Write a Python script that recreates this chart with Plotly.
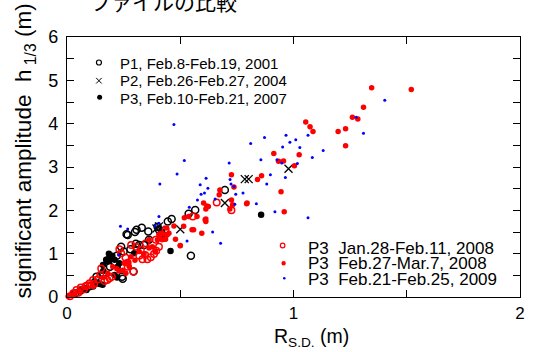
import plotly.graph_objects as go

# ---------------- data ----------------
p1_x = [0.035, 0.06, 0.10, 0.13, 0.16, 0.19, 0.21, 0.239, 0.243, 0.246, 0.263, 0.268, 0.294, 0.30, 0.304,
        0.307, 0.319, 0.33, 0.34, 0.359, 0.362, 0.40, 0.406, 0.445, 0.462, 0.537, 0.547, 0.566, 0.697,
        0.22, 0.25, 0.28, 0.18]
p1_y = [0.08, 0.15, 0.25, 0.47, 0.55, 0.70, 0.78, 1.16, 0.47, 0.42, 1.45, 1.43, 0.59, 1.50, 1.23,
        1.55, 1.20, 1.60, 1.20, 1.51, 1.32, 1.62, 1.55, 1.74, 1.80, 1.92, 0.95, 2.01, 2.47,
        0.95, 1.05, 1.10, 0.85]

p2_x = [0.395, 0.406, 0.413, 0.50, 0.697, 0.785, 0.802, 0.978]
p2_y = [1.58, 1.63, 1.55, 1.565, 2.17, 2.72, 2.72, 2.96]

p3_07_x = [0.03, 0.057, 0.079, 0.086, 0.115, 0.12, 0.137, 0.145, 0.157, 0.159, 0.16, 0.173, 0.18, 0.185,
           0.19, 0.20, 0.21, 0.21, 0.221, 0.224, 0.231, 0.297, 0.42, 0.428, 0.457, 0.857]
p3_07_y = [0.05, 0.16, 0.20, 0.16, 0.24, 0.35, 0.32, 0.30, 0.28, 0.74, 0.60, 0.86, 0.82, 1.00,
           0.90, 0.95, 0.86, 0.51, 0.45, 0.70, 0.78, 1.01, 1.51, 1.43, 1.06, 1.90]

p3_08a_x = [0.013, 0.028, 0.042, 0.061, 0.082, 0.10, 0.115, 0.137, 0.147, 0.151, 0.166, 0.178, 0.188, 0.198,
            0.231, 0.239, 0.258, 0.268, 0.268, 0.293, 0.283, 0.304, 0.319, 0.333, 0.345, 0.355, 0.37, 0.384,
            0.394, 0.406, 0.392, 0.413, 0.428, 0.435, 0.348, 0.326, 0.555, 0.661, 0.726, 0.05, 0.075, 0.09, 0.12]
p3_08a_y = [0.02, 0.085, 0.16, 0.22, 0.25, 0.32, 0.39, 0.41, 0.51, 0.66, 0.37, 0.39, 0.43, 0.47,
            1.10, 1.01, 0.91, 0.79, 0.70, 0.59, 1.20, 1.16, 0.95, 0.87, 0.97, 0.87, 0.92, 0.99,
            1.07, 1.16, 1.32, 1.43, 1.36, 1.55, 1.24, 1.09, 1.86, 2.18, 2.00, 0.10, 0.18, 0.27, 0.30]

p3_08b_x = [0.005, 0.03, 0.057, 0.115, 0.18, 0.202, 0.246, 0.253, 0.26, 0.275, 0.283, 0.319, 0.362, 0.377,
            0.362, 0.399, 0.406, 0.42, 0.42, 0.435, 0.44, 0.442, 0.45, 0.472, 0.479, 0.50, 0.50, 0.515,
            0.518, 0.537, 0.552, 0.559, 0.574, 0.595, 0.603, 0.61, 0.613, 0.613, 0.613, 0.617, 0.624,
            0.672, 0.675, 0.719, 0.726, 0.726, 0.731, 0.737, 0.793, 0.795, 0.841, 0.859, 0.913, 0.934,
            0.945, 0.956, 0.959, 1.004, 1.025, 1.054, 1.073, 1.086, 1.197, 1.23, 1.23, 1.26, 1.284,
            1.309, 1.345, 1.52, 0.22, 0.30, 0.34, 0.39, 0.16, 0.23, 0.27]
p3_08b_y = [0.02, 0.06, 0.12, 0.24, 0.55, 0.70, 0.62, 0.78, 0.55, 0.70, 0.93, 1.05, 1.13, 1.16,
            1.32, 1.32, 1.43, 1.47, 1.32, 1.33, 1.59, 1.43, 1.47, 1.64, 1.33, 1.19, 1.18, 1.63,
            1.83, 1.86, 1.55, 1.55, 1.86, 1.47, 2.17, 1.78, 2.03, 1.80, 1.74, 2.10, 2.09,
            2.36, 2.47, 2.03, 2.24, 2.82, 2.13, 2.54, 2.15, 2.17, 2.71, 2.80, 3.31, 3.13,
            2.43, 3.14, 1.97, 3.03, 3.28, 4.04, 3.93, 3.82, 3.82, 3.88, 3.49, 4.15, 4.11,
            4.38, 4.83, 4.79, 0.65, 0.85, 1.00, 1.05, 0.45, 0.60, 0.80]

p3_09_x = [1.403, 1.309, 1.277, 0.811, 0.872, 0.967, 1.01, 0.984, 0.952, 1.028, 1.064, 1.131, 1.083, 0.856,
           0.927, 0.948, 1.017, 0.964, 0.716, 0.898, 0.882, 0.72, 0.724, 0.737, 0.614, 0.588, 0.622, 0.607,
           0.592, 0.777, 0.654, 0.741, 0.836, 0.918, 1.064, 0.472, 0.518, 0.486, 0.41, 0.406, 0.54, 0.236,
           0.268, 0.643, 0.678, 0.53, 0.745, 0.576, 0.228, 0.389, 0.406]
p3_09_y = [4.54, 3.78, 4.15, 3.54, 3.68, 3.73, 3.63, 3.57, 3.46, 3.45, 3.73, 3.38, 3.22, 3.17,
           3.17, 3.09, 3.08, 2.76, 3.09, 2.82, 2.61, 2.71, 2.61, 2.55, 2.74, 2.59, 2.51, 2.40,
           2.37, 2.40, 2.26, 2.14, 2.15, 1.97, 1.83, 3.98, 3.15, 2.84, 2.61, 1.86, 2.07, 1.63,
           1.57, 1.50, 1.24, 1.29, 2.37, 2.24, 0.97, 1.64, 1.70]

x_range = [0, 2]
y_range = [0, 6]

legend1_labels = ["P1, Feb.8-Feb.19, 2001", "P2, Feb.26-Feb.27, 2004", "P3, Feb.10-Feb.21, 2007"]
legend2_labels = ["P3\u00a0\u00a0Jan.28-Feb.11, 2008", "P3\u00a0\u00a0Feb.27-Mar.7, 2008",
                  "P3\u00a0\u00a0Feb.21-Feb.25, 2009"]

# ---------------- figure ----------------
W, H = 533, 352
L, R, T, B = 67, 8, 37, 55
PW, PH = W - L - R, H - T - B

def px_x(px):
    return (px - L) / PW

def px_y(py):
    return (H - B - py) / PH

FONT = "Liberation Sans, Arial, sans-serif"
fig = go.Figure()

fig.add_trace(go.Scatter(x=p1_x, y=p1_y, mode="markers", cliponaxis=False,
                         marker=dict(symbol="circle-open", size=7, color="black", line=dict(width=1.5))))
fig.add_trace(go.Scatter(x=p2_x, y=p2_y, mode="markers", cliponaxis=False,
                         marker=dict(symbol="x-thin-open", size=8, color="black", line=dict(width=1.3))))
fig.add_trace(go.Scatter(x=p3_07_x, y=p3_07_y, mode="markers", cliponaxis=False,
                         marker=dict(symbol="circle", size=6.5, color="black", line=dict(width=0))))
fig.add_trace(go.Scatter(x=p3_08a_x, y=p3_08a_y, mode="markers", cliponaxis=False,
                         marker=dict(symbol="circle-open", size=6.5, color="#ff0000", line=dict(width=1.5))))
fig.add_trace(go.Scatter(x=p3_08b_x, y=p3_08b_y, mode="markers", cliponaxis=False,
                         marker=dict(symbol="circle", size=5.5, color="#ff0000", line=dict(width=0))))
fig.add_trace(go.Scatter(x=p3_09_x, y=p3_09_y, mode="markers", cliponaxis=False,
                         marker=dict(symbol="circle", size=3, color="#0000ff", line=dict(width=0))))

axis_common = dict(showgrid=False, zeroline=False, showline=True, linecolor="black", linewidth=1.3,
                   mirror="allticks", ticks="inside", ticklen=7, tickwidth=1, tickcolor="black",
                   dtick=1, tick0=0,
                   minor=dict(dtick=0.5, tick0=0, ticks="inside", ticklen=7, tickwidth=1,
                              tickcolor="black", showgrid=False))

fig.update_xaxes(range=x_range, tickfont=dict(family=FONT, size=17, color="black"), **axis_common)
fig.update_yaxes(range=y_range, tickfont=dict(family=FONT, size=18, color="black"),
                 ticklabelstandoff=4, **axis_common)

annotations = []
shapes = []

# legend 1 (top-left)
leg1_rows = [64, 81, 98.7]
for lab, ry in zip(legend1_labels, leg1_rows):
    annotations.append(dict(text=lab, xref="paper", yref="paper", x=px_x(119), y=px_y(ry),
                            xanchor="left", yanchor="middle", showarrow=False,
                            font=dict(family=FONT, size=15, color="black")))
shapes.append(dict(type="circle", xref="paper", yref="paper", xsizemode="pixel", ysizemode="pixel",
                   xanchor=px_x(99.3), yanchor=px_y(62.5), x0=-2.5, x1=2.5, y0=-2.5, y1=2.5,
                   line=dict(color="black", width=1.2)))
for dx in (1, -1):
    shapes.append(dict(type="line", xref="paper", yref="paper", xsizemode="pixel", ysizemode="pixel",
                       xanchor=px_x(99.3), yanchor=px_y(80.7), x0=-2.8, x1=2.8, y0=-2.8 * dx, y1=2.8 * dx,
                       line=dict(color="black", width=1)))
shapes.append(dict(type="circle", xref="paper", yref="paper", xsizemode="pixel", ysizemode="pixel",
                   xanchor=px_x(100), yanchor=px_y(97.3), x0=-2.5, x1=2.5, y0=-2.5, y1=2.5,
                   fillcolor="black", line=dict(color="black", width=0)))

# legend 2 (bottom-right)
leg2_rows = [248.5, 263.8, 279]
for lab, ry in zip(legend2_labels, leg2_rows):
    annotations.append(dict(text=lab, xref="paper", yref="paper", x=px_x(309), y=px_y(ry),
                            xanchor="left", yanchor="middle", showarrow=False,
                            font=dict(family=FONT, size=17, color="black")))
shapes.append(dict(type="circle", xref="paper", yref="paper", xsizemode="pixel", ysizemode="pixel",
                   xanchor=px_x(285), yanchor=px_y(245.5), x0=-2.3, x1=2.3, y0=-2.3, y1=2.3,
                   line=dict(color="#ff0000", width=1.2)))
shapes.append(dict(type="circle", xref="paper", yref="paper", xsizemode="pixel", ysizemode="pixel",
                   xanchor=px_x(286), yanchor=px_y(263.3), x0=-2.2, x1=2.2, y0=-2.2, y1=2.2,
                   fillcolor="#ff0000", line=dict(color="#ff0000", width=0)))
shapes.append(dict(type="circle", xref="paper", yref="paper", xsizemode="pixel", ysizemode="pixel",
                   xanchor=px_x(286.7), yanchor=px_y(278.3), x0=-1.3, x1=1.3, y0=-1.3, y1=1.3,
                   fillcolor="#0000ff", line=dict(color="#0000ff", width=0)))

# axis titles
annotations.append(dict(text="R<sub>S.D.</sub> (m)", xref="paper", yref="paper", x=px_x(314), y=px_y(338),
                        xanchor="center", yanchor="middle", showarrow=False,
                        font=dict(family=FONT, size=19.5, color="black")))
annotations.append(dict(text="significant amplitude\u00a0\u00a0h<sub> 1/3</sub> (m)", xref="paper",
                        yref="paper", x=px_x(25), y=px_y(151), textangle=-90,
                        xanchor="center", yanchor="middle", showarrow=False,
                        font=dict(family=FONT, size=22.5, color="black")))
# cut-off title at the very top
annotations.append(dict(text="ファイルの比較", xref="paper", yref="paper", x=px_x(88), y=px_y(1),
                        xanchor="left", yanchor="middle", showarrow=False,
                        font=dict(family="Noto Sans CJK JP", size=21, color="black")))

fig.update_layout(width=W, height=H, margin=dict(l=L, r=R, t=T, b=B), showlegend=False,
                  paper_bgcolor="white", plot_bgcolor="white",
                  annotations=annotations, shapes=shapes)

fig.write_html("out.html", config={"displayModeBar": False})
